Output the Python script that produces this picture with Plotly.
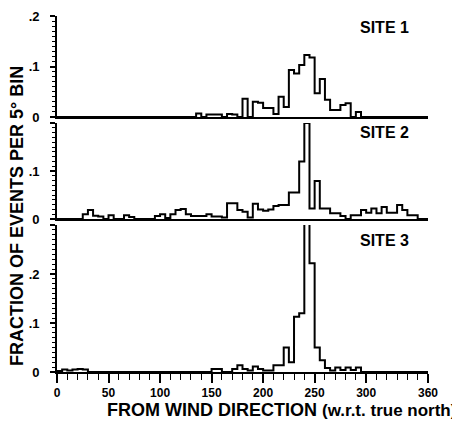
import plotly.graph_objects as go

# 5-degree bins (left edges)
bin_left = list(range(0, 360, 5))

site1 = [
    0, 0, 0, 0, 0, 0, 0, 0, 0, 0,                          # 0-45
    0, 0, 0, 0, 0, 0, 0, 0, 0, 0,                          # 50-95
    0, 0, 0, 0, 0, 0, 0, 0.007, 0, 0.005,                  # 100-145
    0.005, 0.005, 0, 0.006, 0.005, 0, 0.036, 0, 0.03, 0.028,   # 150-195
    0.018, 0.018, 0.006, 0.04, 0.02, 0.093, 0.086, 0.103, 0.123, 0.118,  # 200-245
    0.047, 0.075, 0.034, 0.014, 0.014, 0.024, 0.027, 0, 0.01, 0,  # 250-295
    0, 0, 0, 0, 0, 0, 0, 0, 0, 0,                          # 300-345
    0, 0,                                                  # 350-355
]

site2 = [
    0, 0, 0, 0, 0, 0.01, 0.019, 0.007, 0.005, 0,           # 0-45
    0.008, 0, 0, 0.008, 0.004, 0, 0, 0, 0, 0.006,          # 50-95
    0.01, 0.002, 0.01, 0.019, 0.021, 0.01, 0.006, 0.006, 0.006, 0.01,  # 100-145
    0.005, 0.005, 0.003, 0.033, 0.033, 0.019, 0.015, 0.003, 0.032, 0.02,  # 150-195
    0.017, 0.02, 0.027, 0.029, 0.029, 0.055, 0.055, 0.12, 0.2, 0.022,  # 200-245
    0.079, 0.022, 0.022, 0.012, 0.012, 0.006, 0, 0.008, 0.008, 0.019,  # 250-295
    0.013, 0.022, 0.012, 0.025, 0.013, 0.013, 0.029, 0.019, 0.008, 0.008,  # 300-345
    0, 0,                                                  # 350-355
]

site3 = [
    0.002, 0.005, 0.003, 0.005, 0.006, 0.005, 0, 0, 0, 0,  # 0-45
    0, 0, 0, 0, 0, 0, 0, 0, 0, 0,                          # 50-95
    0, 0, 0, 0, 0, 0, 0, 0, 0, 0,                          # 100-145
    0.006, 0.006, 0, 0, 0.006, 0.014, 0.006, 0.003, 0.011, 0.006,  # 150-195
    0.003, 0.003, 0.014, 0.014, 0.05, 0.02, 0.113, 0.12, 0.302, 0.222,  # 200-245
    0.05, 0.024, 0.008, 0.003, 0.009, 0.004, 0.009, 0.004, 0.009, 0,  # 250-295
    0, 0, 0, 0, 0, 0, 0, 0, 0, 0,                          # 300-345
    0, 0,                                                  # 350-355
]

site_names = ["SITE 1", "SITE 2", "SITE 3"]
x_tick_vals = [0, 50, 100, 150, 200, 250, 300, 360]
x_tick_text = ["0", "50", "100", "150", "200", "250", "300", "360"]
y_ranges = [[0, 0.2], [0, 0.2], [0, 0.3]]
y_tick_vals = [[0, 0.1, 0.2], [0, 0.1, 0.2], [0, 0.1, 0.2, 0.3]]
y_tick_text = [["0", ".1", ".2"], ["0", ".1", ""], ["0", ".1", ".2", ""]]
y_title = "FRACTION OF EVENTS PER 5° BIN"
x_title_main = "FROM WIND DIRECTION"
x_title_sub = "(w.r.t. true north)"

FONT = "Liberation Sans"
# page body has an 8px default margin; size the figure so it fits the 460x428 window
W, H = 452, 420
ML, MR, MT, MB = 49, 32, 8, 56
plot_h = H - MT - MB
plot_w = W - ML - MR
PLOT_BOTTOM_SCREEN = 372
PLOT_LEFT_SCREEN = 57


def py(px):
    return (PLOT_BOTTOM_SCREEN - px) / plot_h


def pxx(px):
    return (px - PLOT_LEFT_SCREEN) / plot_w


domains = [[py(117), 1.0], [py(219), py(123)], [0.0, py(225)]]
label_y = [py(27), py(132), py(240)]

fig = go.Figure()
series = [site1, site2, site3]
for k, vals in enumerate(series):
    sfx = "" if k == 0 else str(k + 1)
    fig.add_trace(go.Scatter(
        x=bin_left + [360], y=vals + [vals[-1]], mode="lines",
        line=dict(color="black", width=2, shape="hv"),
        xaxis="x" + sfx, yaxis="y" + sfx, cliponaxis=False,
        showlegend=False, hoverinfo="skip"))

layout = dict(
    width=W, height=H,
    margin=dict(l=ML, r=MR, t=MT, b=MB, autoexpand=False),
    paper_bgcolor="white", plot_bgcolor="white",
    font=dict(family=FONT, color="black"),
    showlegend=False,
)

for k in range(3):
    sfx = "" if k == 0 else str(k + 1)
    xa = dict(
        domain=[0, 1], range=[0, 360], anchor="y" + sfx, automargin=False,
        showline=True, linecolor="black", linewidth=1.6,
        showgrid=False, zeroline=False, fixedrange=True,
    )
    if k == 2:
        xa.update(
            tickmode="array", tickvals=x_tick_vals, ticktext=x_tick_text,
            ticks="outside", ticklen=9, tickwidth=1.5, tickcolor="black",
            tickfont=dict(family=FONT, size=12, color="black", weight="bold"),
            minor=dict(tickmode="linear", tick0=0, dtick=10, ticks="outside",
                       ticklen=6, tickwidth=1.3, tickcolor="black"),
        )
    else:
        xa.update(showticklabels=False, ticks="")
    ya = dict(
        domain=domains[k], range=y_ranges[k], anchor="x" + sfx, automargin=False,
        showline=True, linecolor="black", linewidth=1.6,
        showgrid=False, zeroline=False, fixedrange=True,
        tickmode="array", tickvals=y_tick_vals[k], ticktext=y_tick_text[k],
        ticks="outside", ticklen=5, tickwidth=1.5, tickcolor="black",
        tickfont=dict(family=FONT, size=13, color="black", weight="bold"),
        ticklabelstandoff=8,
        minor=dict(tickmode="linear", tick0=0, dtick=0.01, ticks="outside",
                   ticklen=3, tickwidth=1, tickcolor="black"),
    )
    layout["xaxis" + sfx] = xa
    layout["yaxis" + sfx] = ya

annotations = []
for k in range(3):
    annotations.append(dict(
        text="<b>" + site_names[k] + "</b>", xref="paper", yref="paper",
        x=pxx(411), y=label_y[k], xanchor="right", yanchor="middle",
        showarrow=False, font=dict(family=FONT, size=16, color="black")))

annotations.append(dict(
    text="<b>" + y_title + "</b>", xref="paper", yref="paper",
    x=pxx(17), y=py(216), xanchor="center", yanchor="middle", textangle=-90,
    showarrow=False, font=dict(family=FONT, size=18, color="black")))

annotations.append(dict(
    text="<b>" + x_title_main + " <span style='font-size:17px'>" + x_title_sub + "</span></b>",
    xref="paper", yref="paper",
    x=pxx(281), y=py(410), xanchor="center", yanchor="middle",
    showarrow=False, font=dict(family=FONT, size=18, color="black")))

layout["annotations"] = annotations
fig.update_layout(**layout)
fig.write_html("out.html")
